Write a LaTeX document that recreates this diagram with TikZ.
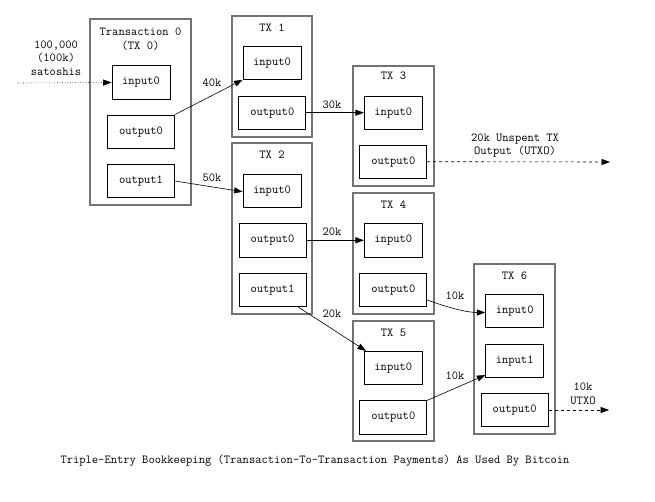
\documentclass[tikz,border=0pt]{standalone}
\usepackage{fontspec}
\usetikzlibrary{arrows.meta}
\begin{document}
\begin{tikzpicture}[x=1pt,y=-1pt,
  every node/.style={font=\ttfamily\fontsize{12.2}{13.5}\selectfont, inner sep=0pt},
  txbox/.style={draw=gray!90!black, line width=1.3pt, rectangle},
  inbox/.style={draw=black, line width=0.7pt, rectangle, minimum width=58pt, minimum height=33.5pt},
  outbox/.style={draw=black, line width=0.7pt, rectangle, minimum width=67pt, minimum height=33.5pt},
  lbl/.style={align=center},
  edge/.style={draw=black, line width=0.6pt, -{Triangle[length=8.5pt,width=6pt]}},
]
\useasboundingbox (0,0) rectangle (655,501);
% outer transaction boxes
\node[txbox, minimum width=101pt, minimum height=186pt] (tx0) at (140.5,112) {};
\node[txbox, minimum width=80pt, minimum height=121pt] (tx1) at (272,76.5) {};
\node[txbox, minimum width=80pt, minimum height=171pt] (tx2) at (272,228.5) {};
\node[txbox, minimum width=81pt, minimum height=120pt] (tx3) at (393.5,126) {};
\node[txbox, minimum width=81pt, minimum height=121pt] (tx4) at (393.5,253.5) {};
\node[txbox, minimum width=81pt, minimum height=120pt] (tx5) at (393.5,381) {};
\node[txbox, minimum width=81pt, minimum height=170pt] (tx6) at (514.5,349) {};
% titles
\node (t0a) at (140.5,31.7) {Transaction 0};
\node (t0b) at (140.5,45.7) {(TX 0)};
\node (t1) at (272,27.3) {TX 1};
\node (t2) at (272,154.3) {TX 2};
\node (t3) at (393.5,76) {TX 3};
\node (t4) at (393.5,204.3) {TX 4};
\node (t5) at (393.5,332.7) {TX 5};
\node (t6) at (514.5,275.7) {TX 6};
% inner boxes
\node[inbox] (tx0i0) at (141,82.5) {input0};
\node[outbox] (tx0o0) at (141,131.7) {output0};
\node[outbox] (tx0o1) at (141,181) {output1};
\node[inbox] (tx1i0) at (272,62.7) {input0};
\node[outbox] (tx1o0) at (272.3,112.7) {output0};
\node[inbox] (tx2i0) at (272,190.7) {input0};
\node[outbox] (tx2o0) at (272.5,240.3) {output0};
\node[outbox] (tx2o1) at (272.5,290) {output1};
\node[inbox] (tx3i0) at (393.3,112.7) {input0};
\node[outbox] (tx3o0) at (393.3,161.7) {output0};
\node[inbox] (tx4i0) at (393.3,240.3) {input0};
\node[outbox] (tx4o0) at (393.3,290) {output0};
\node[inbox] (tx5i0) at (393.3,368) {input0};
\node[outbox] (tx5o0) at (393.3,417.5) {output0};
\node[inbox] (tx6i0) at (514.7,311) {input0};
\node[inbox] (tx6i1) at (514.7,361) {input1};
\node[outbox] (tx6o0) at (514.7,410) {output0};
% free ends
\coordinate (src) at (18,83);
\coordinate (utxo1) at (610,162);
\coordinate (utxo2) at (609,410);
% edges
\draw[edge, dotted] (src) -- (tx0i0.west);
\node[lbl] (srcl) at (56,58) {100,000\\(100k)\\satoshis};
\draw[edge] (tx0o0.north east) -- (tx1i0.south west);
\node (l40) at (212,83) {40k};
\draw[edge] (tx0o1.east) -- ([yshift=-1pt]tx2i0.west);
\node (l50) at (212,178) {50k};
\draw[edge] (tx1o0.east) -- (tx3i0.west);
\node (l30) at (332,105) {30k};
\draw[edge, dashed] (tx3o0.east) -- (utxo1);
\node[lbl] (lu1) at (515,145.5) {20k Unspent TX\\Output (UTXO)};
\draw[edge] (tx2o0.east) -- (tx4i0.west);
\node (l20a) at (332,231.7) {20k};
\draw[edge] ([xshift=-8pt]tx2o1.south east) -- ([xshift=2pt]tx5i0.north west);
\node (l20b) at (332,313.3) {20k};
\draw[edge] ([yshift=-10pt]tx4o0.east) .. controls +(22,8) and +(-18,0) .. ([yshift=-1.5pt]tx6i0.west);
\node (l10a) at (455,296) {10k};
\draw[edge] (tx5o0.north east) -- ([yshift=3pt]tx6i1.south west);
\node (l10b) at (455,376) {10k};
\draw[edge, dashed] (tx6o0.east) -- (utxo2);
\node[lbl] (lu2) at (583,394) {10k\\UTXO};
\node (cap) at (315,461) {Triple-Entry Bookkeeping (Transaction-To-Transaction Payments) As Used By Bitcoin};
\end{tikzpicture}
\end{document}
